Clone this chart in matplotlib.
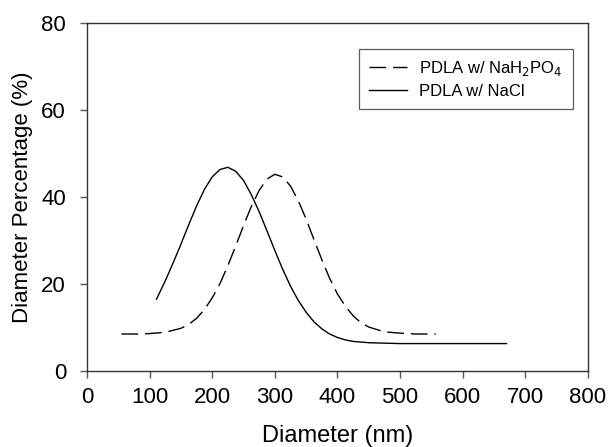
import matplotlib
matplotlib.use('Agg')
import matplotlib.pyplot as plt

plt.rcParams['font.family'] = ['Liberation Sans', 'DejaVu Sans']

# PDLA w/ NaH2PO4 (dashed)
x_phos = [55, 80, 100, 125, 150, 162.5, 175, 187.5, 200, 212.5, 225, 237.5, 250, 262.5,
          275, 287.5, 300, 312.5, 325, 337.5, 350, 362.5, 375, 387.5, 400, 412.5,
          425, 437.5, 450, 475, 500, 525, 557]
y_phos = [8.5, 8.5, 8.6, 8.9, 9.8, 10.7, 12.1, 14.1, 16.8, 20.1, 24.2, 28.7, 33.4, 37.8,
          41.5, 44.1, 45.2, 44.6, 42.5, 39.1, 34.9, 30.2, 25.6, 21.3, 17.7, 14.9,
          12.7, 11.1, 10.1, 9.0, 8.7, 8.5, 8.5]

# PDLA w/ NaCl (solid)
x_nacl = [111, 125, 137.5, 150, 162.5, 175, 187.5, 200, 212.5, 225, 237.5, 250, 262.5,
          275, 287.5, 300, 312.5, 325, 337.5, 350, 362.5, 375, 387.5, 400, 412.5,
          425, 450, 475, 500, 550, 600, 670]
y_nacl = [16.5, 20.7, 24.8, 29.1, 33.6, 37.9, 41.7, 44.6, 46.3, 46.8, 45.9, 43.8, 40.5,
          36.6, 32.2, 27.7, 23.4, 19.5, 16.2, 13.5, 11.3, 9.7, 8.5, 7.7, 7.15,
          6.8, 6.5, 6.4, 6.3, 6.3, 6.3, 6.3]

fig = plt.figure(figsize=(6.08, 4.47), dpi=100)
ax = fig.add_axes([0.143, 0.170, 0.824, 0.779])

ax.plot(x_phos, y_phos, color='black', lw=1.0, dashes=(12, 5),
        label='PDLA w/ NaH$_2$PO$_4$')
ax.plot(x_nacl, y_nacl, color='black', lw=1.0, label='PDLA w/ NaCl')

ax.set_xlim(0, 800)
ax.set_ylim(0, 80)
ax.set_xticks(range(0, 801, 100))
ax.set_yticks(range(0, 81, 20))
ax.tick_params(direction='out', length=5, width=1, labelsize=16, top=False, right=False,
               color='#555555')
ax.tick_params(axis='x', pad=6.5)
ax.tick_params(axis='y', pad=10)
for s in ax.spines.values():
    s.set_linewidth(1.0)
    s.set_color('#333333')

ax.set_xlabel('Diameter (nm)', fontsize=17, labelpad=12)
ax.set_ylabel('Diameter Percentage (%)', fontsize=16, labelpad=6)

leg = ax.legend(loc='upper right', bbox_to_anchor=(0.970, 0.925), borderaxespad=0,
                fontsize=12, frameon=True, fancybox=False, handlelength=2.3,
                borderpad=0.6, handletextpad=0.75, labelspacing=0.35)
leg.get_frame().set_edgecolor('#333333')
leg.get_frame().set_linewidth(0.9)

fig.savefig('out.png', dpi=100)
